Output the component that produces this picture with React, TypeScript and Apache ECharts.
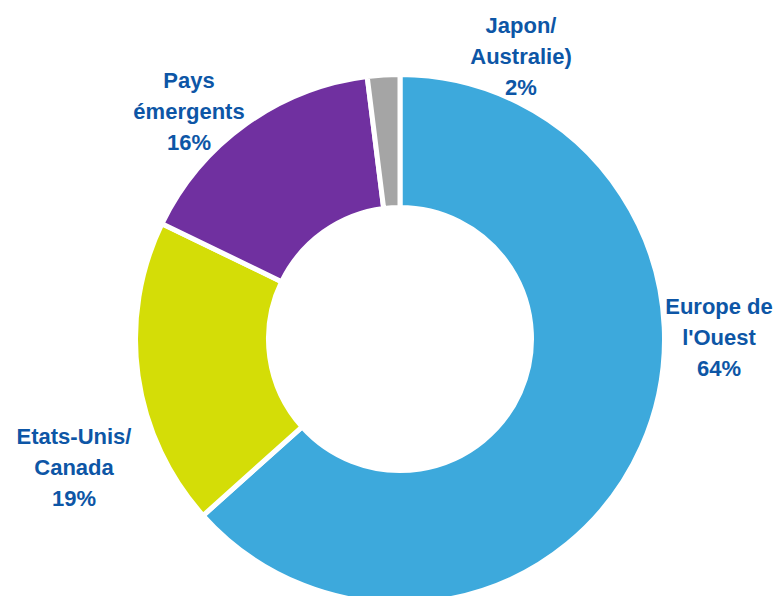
import React, { useEffect, useRef } from "react";
import * as echarts from "echarts";

const categories = ["Europe de\nl'Ouest", "Etats-Unis/\nCanada", "Pays\némergents", "Japon/\nAustralie)"];
const values = [64, 19, 16, 2];
const colors = ["#3DA9DC", "#D4DD07", "#7030A0", "#A5A5A5"];
const labelPos: [number, number][] = [
  [719, 337],
  [74, 467],
  [189, 111],
  [521, 56],
];

export default function App() {
  const ref = useRef<HTMLDivElement>(null);
  useEffect(() => {
    document.body.style.margin = "0";
    const chart = echarts.init(ref.current!, null, { renderer: "svg" });
    chart.setOption({
      animation: false,
      backgroundColor: "#ffffff",
      series: [
        {
          type: "pie",
          center: [400, 339],
          radius: [131.5, 264.5],
          startAngle: 90,
          clockwise: true,
          avoidLabelOverlap: false,
          data: categories.map((c, i) => ({
            name: c,
            value: values[i],
            itemStyle: { color: colors[i] },
          })),
          itemStyle: { borderColor: "#ffffff", borderWidth: 5 },
          label: {
            show: true,
            position: "outside",
            formatter: (p: any) => `${p.name}\n${p.value}%`,
            color: "#0D56A6",
            fontFamily: "Liberation Sans, Arial, sans-serif",
            fontWeight: "bold",
            fontSize: 22,
            lineHeight: 31,
            align: "center",
          },
          labelLine: { show: false },
          labelLayout: (params: any) => {
            const p = labelPos[params.dataIndex];
            return { x: p[0], y: p[1], align: "center", verticalAlign: "middle" };
          },
          emphasis: { disabled: true },
        },
      ],
    });
    return () => chart.dispose();
  }, []);
  return <div ref={ref} style={{ width: 778, height: 596 }} />;
}
